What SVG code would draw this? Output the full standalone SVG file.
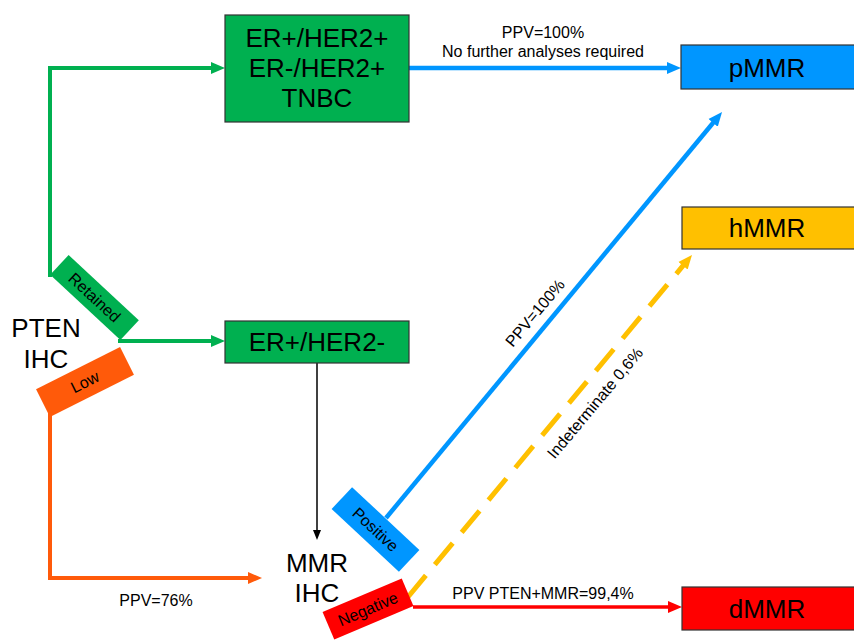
<svg xmlns="http://www.w3.org/2000/svg" width="854" height="640" viewBox="0 0 854 640">
<style>
text{font-family:"Liberation Sans",Arial,sans-serif;fill:#000}
.big{font-size:26px;text-anchor:middle}
.sm{font-size:16px;text-anchor:middle}
.lbl{font-size:16px;text-anchor:middle;dominant-baseline:central}
.box{stroke:#333;stroke-width:1.2}
.conn{fill:none}
</style>
<defs>
<marker id="aG" markerUnits="userSpaceOnUse" markerWidth="14" markerHeight="14" viewBox="0 0 14 14" refX="2" refY="7" orient="auto"><path d="M0,1 L14,7 L0,13 z" fill="#00B050"/></marker>
<marker id="aB" markerUnits="userSpaceOnUse" markerWidth="14" markerHeight="14" viewBox="0 0 14 14" refX="2" refY="7" orient="auto"><path d="M0,1 L14,7 L0,13 z" fill="#0096FF"/></marker>
<marker id="aO" markerUnits="userSpaceOnUse" markerWidth="14" markerHeight="14" viewBox="0 0 14 14" refX="2" refY="7" orient="auto"><path d="M0,1 L14,7 L0,13 z" fill="#FF5A0A"/></marker>
<marker id="aY" markerUnits="userSpaceOnUse" markerWidth="14" markerHeight="14" viewBox="0 0 14 14" refX="2" refY="7" orient="auto"><path d="M0,1 L14,7 L0,13 z" fill="#FFC000"/></marker>
<marker id="aR" markerUnits="userSpaceOnUse" markerWidth="14" markerHeight="14" viewBox="0 0 14 14" refX="2" refY="7" orient="auto"><path d="M0,1 L14,7 L0,13 z" fill="#FF0000"/></marker>
<marker id="aK" markerUnits="userSpaceOnUse" markerWidth="10" markerHeight="10" viewBox="0 0 10 10" refX="1" refY="5" orient="auto"><path d="M0,1 L10,5 L0,9 z" fill="#000"/></marker>
</defs>
<rect width="854" height="640" fill="#fff"/>

<g id="connectors">
<path class="conn" d="M50,277 V68 H213" stroke="#00B050" stroke-width="4" marker-end="url(#aG)"/>
<path class="conn" d="M118,341 H213" stroke="#00B050" stroke-width="4" marker-end="url(#aG)"/>
<path class="conn" d="M50,413 V578 H250" stroke="#FF5A0A" stroke-width="4" marker-end="url(#aO)"/>
<path class="conn" d="M317,363 V531" stroke="#000" stroke-width="1.5" marker-end="url(#aK)"/>
<path class="conn" d="M409,68 H669" stroke="#0096FF" stroke-width="4.5" marker-end="url(#aB)"/>
<path class="conn" d="M386,518 L714.4,121.3" stroke="#0096FF" stroke-width="4.5" marker-end="url(#aB)"/>
<path class="conn" d="M408,597 L684.3,264.2" stroke="#FFC000" stroke-width="5" stroke-dasharray="28 14" marker-end="url(#aY)"/>
<path class="conn" d="M413,607 H670" stroke="#FF0000" stroke-width="3.5" marker-end="url(#aR)"/>
</g>

<g id="edge-labels">
<text class="sm" x="543" y="38">PPV=100%</text>
<text class="sm" x="543" y="57">No further analyses required</text>
<text class="sm" x="156" y="606">PPV=76%</text>
<text class="sm" x="543" y="599">PPV PTEN+MMR=99,4%</text>
<text class="sm" transform="translate(535,313) rotate(-50)" dominant-baseline="central">PPV=100%</text>
<text class="sm" transform="translate(595,403) rotate(-50)" dominant-baseline="central">Indeterminate 0,6%</text>
</g>

<g id="pten-ihc">
<text class="big" x="46" y="337">PTEN</text>
<text class="big" x="46" y="368">IHC</text>
</g>

<g id="retained">
<g transform="translate(94.5,297.5) rotate(43)">
<rect x="-48" y="-13.5" width="96" height="27" fill="#00B050"/>
<text class="lbl" x="0" y="0">Retained</text>
</g>
</g>

<g id="low">
<g transform="translate(85,382) rotate(-26.6)">
<rect x="-47" y="-15.5" width="94" height="31" fill="#FF5A0A"/>
<text class="lbl" x="0" y="0">Low</text>
</g>
</g>

<g id="her2-box">
<rect class="box" x="225" y="15" width="184" height="107" fill="#00B050"/>
<text class="big" x="317" y="47">ER+/HER2+</text>
<text class="big" x="317" y="77">ER-/HER2+</text>
<text class="big" x="317" y="107">TNBC</text>
</g>

<g id="erpos-box">
<rect class="box" x="225" y="321" width="184" height="42" fill="#00B050"/>
<text class="big" x="317" y="351">ER+/HER2-</text>
</g>

<g id="mmr-ihc">
<text class="big" x="317" y="572">MMR</text>
<text class="big" x="317" y="602">IHC</text>
</g>

<g id="positive">
<g transform="translate(375.5,529.5) rotate(43)">
<rect x="-46" y="-15" width="92" height="30" fill="#0096FF"/>
<text class="lbl" x="0" y="0">Positive</text>
</g>
</g>

<g id="negative">
<g transform="translate(368,609) rotate(-23)">
<rect x="-43" y="-15" width="86" height="30" fill="#FF0000"/>
<text class="lbl" x="0" y="0">Negative</text>
</g>
</g>

<g id="pmmr">
<rect class="box" x="681" y="45" width="176" height="44" fill="#0096FF"/>
<text class="big" x="767" y="77">pMMR</text>
</g>

<g id="hmmr">
<rect class="box" x="682" y="207" width="176" height="42" fill="#FFC000"/>
<text class="big" x="767" y="237">hMMR</text>
</g>

<g id="dmmr">
<rect class="box" x="682" y="587" width="176" height="43" fill="#FF0000"/>
<text class="big" x="767" y="618">dMMR</text>
</g>
</svg>
